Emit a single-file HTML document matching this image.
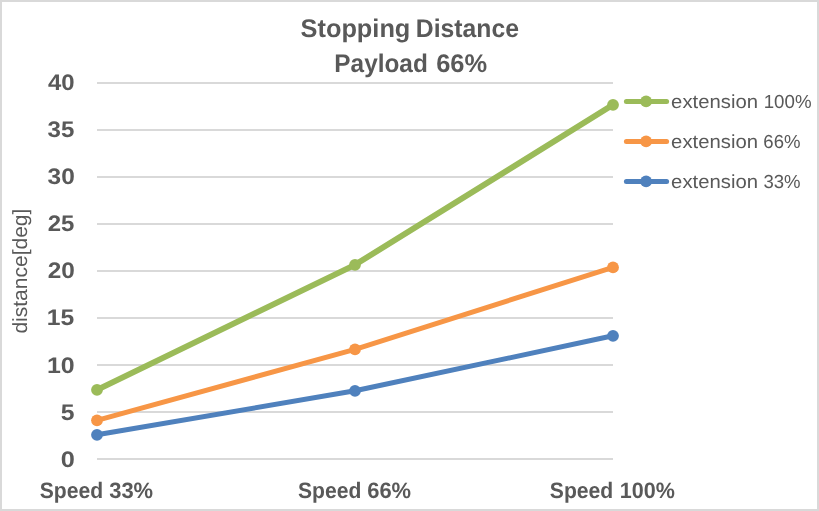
<!DOCTYPE html>
<html lang="en">
<head>
<meta charset="utf-8">
<title>Stopping Distance - Payload 66%</title>
<style>
html,body{margin:0;padding:0;background:#fff;}
body{width:819px;height:511px;overflow:hidden;}
svg{display:block;}
text{font-family:"Liberation Sans",sans-serif;fill:#595959;text-rendering:geometricPrecision;}
.b{font-weight:bold;}
</style>
</head>
<body>
<svg xmlns="http://www.w3.org/2000/svg" width="819" height="511" viewBox="0 0 819 511">
<rect x="0" y="0" width="819" height="511" fill="#ffffff"/>
<rect x="1" y="1" width="817" height="509" fill="none" stroke="#D9D9D9" stroke-width="2"/>
<g stroke="#D9D9D9" stroke-width="2">
<line x1="97" y1="83" x2="613" y2="83"/>
<line x1="97" y1="130" x2="613" y2="130"/>
<line x1="97" y1="177" x2="613" y2="177"/>
<line x1="97" y1="224" x2="613" y2="224"/>
<line x1="97" y1="271" x2="613" y2="271"/>
<line x1="97" y1="318" x2="613" y2="318"/>
<line x1="97" y1="365" x2="613" y2="365"/>
<line x1="97" y1="412" x2="613" y2="412"/>
<line x1="97" y1="459" x2="613" y2="459"/>
</g>
<text class="b" y="37" font-size="25.5"><tspan x="300.58" textLength="109.77" lengthAdjust="spacingAndGlyphs">Stopping</tspan> <tspan x="415.81" textLength="103.10" lengthAdjust="spacingAndGlyphs">Distance</tspan></text>
<text class="b" y="72" font-size="25.5"><tspan x="334.33" textLength="93.44" lengthAdjust="spacingAndGlyphs">Payload</tspan> <tspan x="436.23" textLength="50.95" lengthAdjust="spacingAndGlyphs">66%</tspan></text>
<text class="b" y="498" font-size="22.3"><tspan x="39.72" textLength="63.42" lengthAdjust="spacingAndGlyphs">Speed</tspan> <tspan x="109.20" textLength="43.93" lengthAdjust="spacingAndGlyphs">33%</tspan></text>
<text class="b" y="498" font-size="22.3"><tspan x="298.00" textLength="63.31" lengthAdjust="spacingAndGlyphs">Speed</tspan> <tspan x="367.20" textLength="43.95" lengthAdjust="spacingAndGlyphs">66%</tspan></text>
<text class="b" y="498" font-size="22.3"><tspan x="549.82" textLength="63.43" lengthAdjust="spacingAndGlyphs">Speed</tspan> <tspan x="619.85" textLength="55.08" lengthAdjust="spacingAndGlyphs">100%</tspan></text>
<text y="108" font-size="18.9"><tspan x="671.11" textLength="86.89" lengthAdjust="spacingAndGlyphs">extension</tspan> <tspan x="763.72" textLength="47.85" lengthAdjust="spacingAndGlyphs">100%</tspan></text>
<text y="148" font-size="18.9"><tspan x="671.11" textLength="86.89" lengthAdjust="spacingAndGlyphs">extension</tspan> <tspan x="763.37" textLength="37.17" lengthAdjust="spacingAndGlyphs">66%</tspan></text>
<text y="188" font-size="18.9"><tspan x="671.11" textLength="86.89" lengthAdjust="spacingAndGlyphs">extension</tspan> <tspan x="763.45" textLength="37.16" lengthAdjust="spacingAndGlyphs">33%</tspan></text>
<text class="b" x="48.03" y="90" font-size="22.5" textLength="26.58" lengthAdjust="spacingAndGlyphs">40</text>
<text class="b" x="47.59" y="137" font-size="22.5" textLength="26.74" lengthAdjust="spacingAndGlyphs">35</text>
<text class="b" x="47.60" y="184" font-size="22.5" textLength="27.15" lengthAdjust="spacingAndGlyphs">30</text>
<text class="b" x="47.65" y="231" font-size="22.5" textLength="26.66" lengthAdjust="spacingAndGlyphs">25</text>
<text class="b" x="47.65" y="278" font-size="22.5" textLength="27.09" lengthAdjust="spacingAndGlyphs">20</text>
<text class="b" x="46.89" y="325" font-size="22.5" textLength="27.44" lengthAdjust="spacingAndGlyphs">15</text>
<text class="b" x="46.91" y="373" font-size="22.5" textLength="27.70" lengthAdjust="spacingAndGlyphs">10</text>
<text class="b" x="60.66" y="420" font-size="22.5" textLength="13.74" lengthAdjust="spacingAndGlyphs">5</text>
<text class="b" x="60.67" y="467" font-size="22.5" textLength="14.07" lengthAdjust="spacingAndGlyphs">0</text>
<text font-size="20.5" text-anchor="middle" transform="translate(27.1,271.1) rotate(-90)" textLength="125" lengthAdjust="spacingAndGlyphs">distance[deg]</text>
<g fill="#4F81BD" stroke="#4F81BD">
<polyline fill="none" stroke-width="5" stroke-linecap="round" stroke-linejoin="round" points="97,434.8 355,390.8 613,335.8"/>
<circle cx="97" cy="434.8" r="5.9" stroke="none"/>
<circle cx="355" cy="390.8" r="5.9" stroke="none"/>
<circle cx="613" cy="335.8" r="5.9" stroke="none"/>
</g>
<g fill="#F79646" stroke="#F79646">
<polyline fill="none" stroke-width="5" stroke-linecap="round" stroke-linejoin="round" points="97,420.3 355,349.3 613,267.4"/>
<circle cx="97" cy="420.3" r="5.9" stroke="none"/>
<circle cx="355" cy="349.3" r="5.9" stroke="none"/>
<circle cx="613" cy="267.4" r="5.9" stroke="none"/>
</g>
<g fill="#9BBB59" stroke="#9BBB59">
<polyline fill="none" stroke-width="5.9" stroke-linecap="round" stroke-linejoin="round" points="97,389.8 355,264.8 613,104.8"/>
<circle cx="97" cy="389.8" r="5.9" stroke="none"/>
<circle cx="355" cy="264.8" r="5.9" stroke="none"/>
<circle cx="613" cy="104.8" r="5.9" stroke="none"/>
</g>
<line x1="626.4" y1="101.4" x2="666.6" y2="101.4" stroke="#9BBB59" stroke-width="5" stroke-linecap="round"/>
<circle cx="646.1" cy="101.4" r="5.9" fill="#9BBB59"/>
<line x1="626.4" y1="141.4" x2="666.6" y2="141.4" stroke="#F79646" stroke-width="5" stroke-linecap="round"/>
<circle cx="646.1" cy="141.4" r="5.9" fill="#F79646"/>
<line x1="626.4" y1="181.4" x2="666.6" y2="181.4" stroke="#4F81BD" stroke-width="5" stroke-linecap="round"/>
<circle cx="646.1" cy="181.4" r="5.9" fill="#4F81BD"/>
</svg>
</body>
</html>
